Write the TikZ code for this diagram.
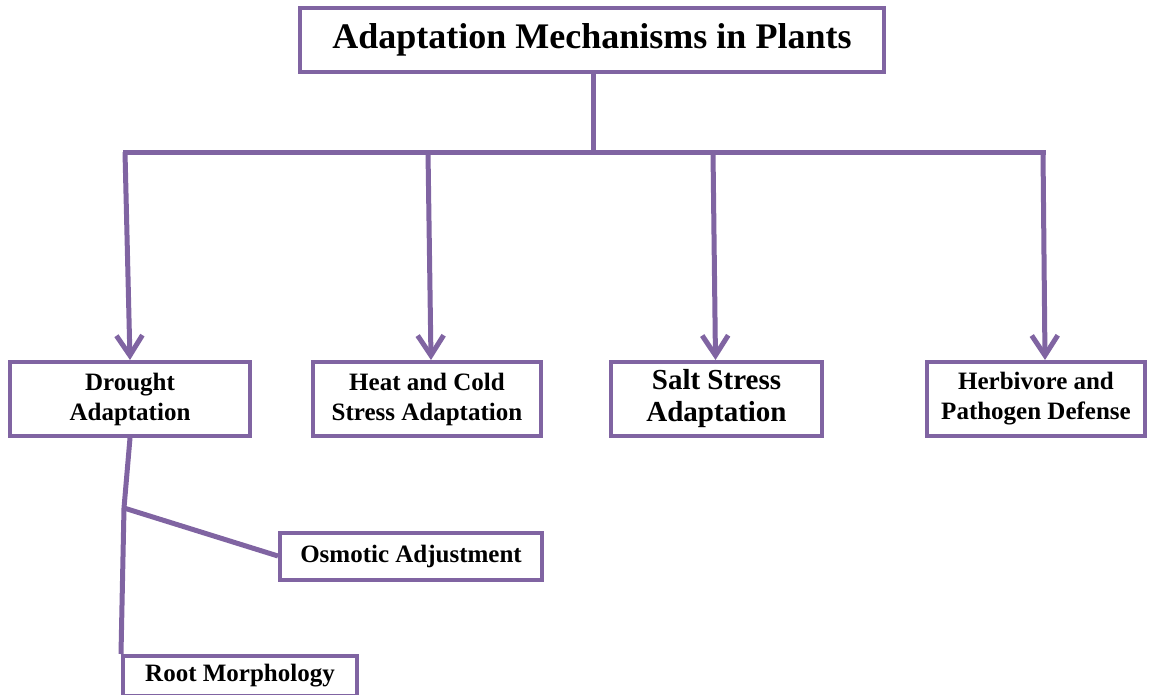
\documentclass[tikz,border=0pt]{standalone}
\usepackage{fontspec}
\setmainfont{Liberation Serif}
\usetikzlibrary{arrows.meta}
\definecolor{lilac}{RGB}{128,100,162}

\begin{document}
\begin{tikzpicture}[
  x=1pt,y=-1pt,
  box/.style={draw=lilac,line width=4pt,fill=white,align=center,inner sep=0pt,
    font=\bfseries\fontsize{25}{30}\selectfont},
  link/.style={draw=lilac,line width=5pt},
  down/.style={link,-{Straight Barb[length=20pt,width=26pt,line width=5pt]}},
  ]
  \useasboundingbox (0,0) rectangle (1153,694);
  %Nodes
  \node[box,minimum width=584,minimum height=64,font=\bfseries\fontsize{36}{42}\selectfont](top) at (592,40){Adaptation Mechanisms in Plants};
  \node[box,minimum width=240,minimum height=74](drought) at (130,399){Drought\\Adaptation};
  \node[box,minimum width=228,minimum height=74](heat) at (427,399){Heat and Cold\\Stress Adaptation};
  \node[box,minimum width=211,minimum height=74,font=\bfseries\fontsize{29}{32}\selectfont](salt) at (716.5,399){Salt Stress\\Adaptation};
  \node[box,minimum width=218,minimum height=74](herb) at (1036,399){Herbivore and\\Pathogen Defense};
  \node[box,minimum width=262,minimum height=47](osmo) at (411,556){Osmotic Adjustment};
  \node[box,minimum width=234,minimum height=40](root) at (240,676){Root Morphology};
  %Joints
  \coordinate (hub) at (593,152);
  \coordinate (j1) at (125,152);
  \coordinate (j2) at (428,152);
  \coordinate (j3) at (713,152);
  \coordinate (j4) at (1043,152);
  \coordinate (fork) at (124,508);
  %Lines
  \draw[link] (top.south -| hub) -- (hub);
  \draw[link,line cap=rect] (j1) -- (j4);
  \draw[down] (j1) -- ([xshift=0pt]drought.north);
  \draw[down] (j2) -- ([xshift=4pt]heat.north);
  \draw[down] (j3) -- ([xshift=-1pt]salt.north);
  \draw[down] (j4) -- ([xshift=9pt]herb.north);
  \draw[link] (drought.south) -- (fork);
  \draw[link] (fork) -- (osmo.west);
  \draw[link] (fork) -- (root.north west);
\end{tikzpicture}
\end{document}
